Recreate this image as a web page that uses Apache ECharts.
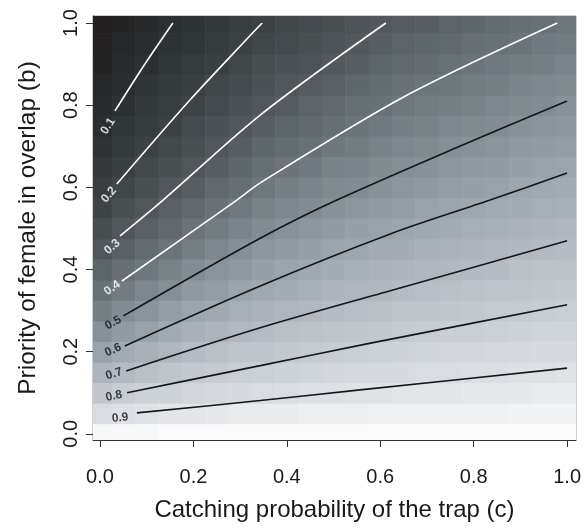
<!DOCTYPE html>
<html>
<head>
<meta charset="utf-8">
<title>trap contour</title>
<script src="https://cdn.jsdelivr.net/npm/echarts@6/dist/echarts.min.js"></script>
<style>
html,body{margin:0;padding:0;background:#fff;}
#main{width:584px;height:529px;}
</style>
</head>
<body>
<div id="main"></div>
<script>
// x = catching probability c, y = priority b
var cSteps = [0,0.05,0.1,0.15,0.2,0.25,0.3,0.35,0.4,0.45,0.5,0.55,0.6,0.65,0.7,0.75,0.8,0.85,0.9,0.95,1.0];
var bSteps = [0,0.05,0.1,0.15,0.2,0.25,0.3,0.35,0.4,0.45,0.5,0.55,0.6,0.65,0.7,0.75,0.8,0.85,0.9,0.95,1.0];

// shade of each cell, one list per c column, from b=0 up to b=1
var shadeCols = [
	[0.99,0.88,0.77,0.67,0.58,0.51,0.44,0.39,0.34,0.29,0.25,0.21,0.18,0.15,0.12,0.09,0.075,0.06,0.045,0.03,0.02],
	[0.99,0.90,0.80,0.70,0.62,0.55,0.49,0.43,0.38,0.33,0.29,0.26,0.22,0.19,0.16,0.14,0.11,0.09,0.075,0.06,0.045],
	[0.99,0.91,0.82,0.73,0.65,0.58,0.52,0.47,0.41,0.37,0.33,0.29,0.26,0.23,0.20,0.17,0.15,0.13,0.10,0.09,0.07],
	[1.0,0.92,0.83,0.76,0.68,0.62,0.56,0.50,0.45,0.40,0.36,0.33,0.29,0.26,0.23,0.20,0.18,0.16,0.14,0.12,0.10],
	[1.0,0.92,0.85,0.78,0.71,0.65,0.59,0.54,0.49,0.44,0.40,0.36,0.32,0.29,0.26,0.24,0.21,0.19,0.17,0.14,0.12],
	[1.0,0.93,0.86,0.79,0.73,0.67,0.61,0.56,0.52,0.47,0.43,0.39,0.36,0.32,0.29,0.27,0.24,0.22,0.19,0.17,0.15],
	[1.0,0.94,0.87,0.81,0.75,0.69,0.64,0.59,0.54,0.50,0.46,0.42,0.38,0.35,0.32,0.29,0.27,0.24,0.22,0.20,0.18],
	[1.0,0.94,0.88,0.82,0.76,0.71,0.66,0.61,0.57,0.53,0.49,0.45,0.41,0.38,0.35,0.32,0.29,0.27,0.25,0.22,0.20],
	[1.0,0.94,0.89,0.83,0.78,0.73,0.68,0.63,0.59,0.55,0.51,0.47,0.44,0.40,0.37,0.34,0.31,0.29,0.27,0.24,0.22],
	[1.0,0.95,0.90,0.84,0.79,0.74,0.69,0.65,0.61,0.57,0.53,0.49,0.46,0.42,0.39,0.36,0.34,0.31,0.28,0.26,0.24],
	[1.0,0.95,0.90,0.85,0.80,0.75,0.71,0.67,0.63,0.59,0.55,0.51,0.48,0.45,0.41,0.38,0.36,0.33,0.30,0.28,0.26],
	[1.0,0.95,0.91,0.86,0.81,0.77,0.72,0.68,0.64,0.60,0.57,0.53,0.49,0.46,0.43,0.40,0.38,0.35,0.32,0.30,0.28],
	[1.0,0.96,0.91,0.87,0.82,0.78,0.73,0.69,0.66,0.62,0.58,0.55,0.51,0.48,0.45,0.42,0.39,0.37,0.34,0.32,0.30],
	[1.0,0.96,0.92,0.87,0.83,0.79,0.75,0.71,0.67,0.63,0.60,0.56,0.53,0.50,0.47,0.44,0.41,0.39,0.36,0.34,0.31],
	[1.0,0.96,0.92,0.88,0.84,0.80,0.76,0.72,0.68,0.65,0.61,0.58,0.54,0.51,0.48,0.45,0.43,0.40,0.37,0.35,0.32],
	[1.0,0.96,0.92,0.88,0.85,0.81,0.77,0.73,0.69,0.66,0.62,0.59,0.56,0.53,0.50,0.47,0.44,0.41,0.39,0.36,0.34],
	[1.0,0.96,0.93,0.89,0.85,0.81,0.78,0.74,0.70,0.67,0.64,0.60,0.57,0.54,0.51,0.48,0.45,0.43,0.40,0.38,0.35],
	[1.0,0.96,0.93,0.89,0.86,0.82,0.79,0.75,0.71,0.68,0.65,0.62,0.58,0.55,0.52,0.49,0.47,0.44,0.42,0.39,0.37],
	[1.0,0.97,0.93,0.90,0.86,0.83,0.79,0.76,0.73,0.69,0.66,0.63,0.60,0.57,0.54,0.51,0.48,0.46,0.43,0.40,0.38],
	[1.0,0.97,0.94,0.90,0.87,0.84,0.80,0.77,0.74,0.70,0.67,0.64,0.61,0.58,0.55,0.52,0.49,0.47,0.44,0.42,0.39],
	[1.0,0.97,0.94,0.91,0.87,0.84,0.81,0.78,0.74,0.71,0.68,0.65,0.62,0.59,0.56,0.53,0.51,0.48,0.46,0.43,0.41]
];

// contour lines, points as [c, b]
var levelNames = ['0.1','0.2','0.3','0.4','0.5','0.6','0.7','0.8','0.9'];
var line01 = [[0.032,0.786],[0.092,0.893],[0.156,1.0]];
var line02 = [[0.036,0.608],[0.193,0.813],[0.347,1.0]];
var line03 = [[0.043,0.482],[0.135,0.569],[0.343,0.776],[0.612,1.0]];
var line04 = [[0.047,0.372],[0.293,0.569],[0.343,0.611],[0.65,0.82],[0.979,1.0]];
var line05 = [[0.05,0.287],[0.343,0.476],[0.507,0.569],[0.77,0.70],[1.0,0.81]];
var line06 = [[0.053,0.214],[0.343,0.36],[0.627,0.489],[0.835,0.569],[1.0,0.635]];
var line07 = [[0.056,0.153],[0.343,0.258],[0.627,0.35],[1.0,0.47]];
var line08 = [[0.058,0.10],[0.343,0.166],[0.571,0.219],[1.0,0.314]];
var line09 = [[0.079,0.051],[0.343,0.081],[0.557,0.107],[1.0,0.16]];

// where the level labels sit, [c, b]
var labelAt = [[0.017,0.749],[0.019,0.582],[0.026,0.455],[0.026,0.355],[0.028,0.270],[0.028,0.204],[0.030,0.146],[0.030,0.092],[0.043,0.039]];
var tickVals = [0,0.2,0.4,0.6,0.8,1.0];

// label tilt in degrees (style only)
var labelTilt = [57,49,40,35,29,24,18,12,6];
var CELL = 0.05;
var FONT = '"Liberation Sans", Arial, Helvetica, sans-serif';

window.onload = function(){
	buildEchart();
};

function buildEchart(){
	var myChart = echarts.init(document.getElementById('main'), null, {renderer:'canvas'});

	var heat = [];
	for(var i=0;i<cSteps.length;i++){
		for(var j=0;j<bSteps.length;j++){
			heat.push([cSteps[i], bSteps[j], shadeCols[i][j]]);
		}
	}

	var lines = [line01,line02,line03,line04,line05,line06,line07,line08,line09];
	var series = [];

	// grey cells
	series.push({
		type:'custom',
		silent:true,
		animation:false,
		encode:{x:0, y:1},
		data:heat,
		renderItem:function(params, api){
			var c = api.value(0), b = api.value(1);
			var p0 = api.coord([c - CELL/2, b + CELL/2]);
			var p1 = api.coord([c + CELL/2, b - CELL/2]);
			var rect = echarts.graphic.clipRectByRect({
				x:p0[0], y:p0[1], width:p1[0]-p0[0]+0.6, height:p1[1]-p0[1]+0.6
			},{
				x:params.coordSys.x, y:params.coordSys.y,
				width:params.coordSys.width, height:params.coordSys.height
			});
			return rect && {type:'rect', shape:rect, style:{fill:api.visual('color')}};
		}
	});

	// contour lines, white for the dark part
	for(var k=0;k<lines.length;k++){
		series.push({
			type:'line',
			data:lines[k],
			showSymbol:false,
			smooth:0.3,
			silent:true,
			animation:false,
			z:3,
			lineStyle:{width:1.6, color:(k<4 ? '#ffffff' : '#161616')}
		});
	}

	// level labels
	var labData = [];
	for(var m=0;m<labelAt.length;m++){
		labData.push({
			value:[labelAt[m][0], labelAt[m][1]],
			label:{
				rotate:labelTilt[m],
				color:(m<4 ? '#ffffff' : '#161616'),
				formatter:levelNames[m]
			}
		});
	}
	series.push({
		type:'scatter',
		data:labData,
		symbolSize:0,
		silent:true,
		animation:false,
		z:4,
		label:{show:true, position:'inside', fontSize:12, fontWeight:'bold', fontFamily:FONT}
	});

	var option = {
		backgroundColor:'#ffffff',
		animation:false,
		grid:{left:93, right:8, top:16, bottom:89, show:true, borderColor:'#9a9a9a', borderWidth:1},
		visualMap:{
			show:false,
			type:'continuous',
			seriesIndex:0,
			dimension:2,
			min:0,
			max:1,
			inRange:{color:['#1f1b1c','#2b2f30','#3b4244','#51595c','#6b7479','#858f95','#9ea7ae','#b3bac1','#c8cdd3','#dde0e4','#fbfbfb']}
		},
		xAxis:{
			type:'value',
			min:-0.015,
			max:1.019,
			splitLine:{show:false},
			axisLine:{show:true, onZero:false, lineStyle:{color:'#333', width:1}},
			axisTick:{show:true, length:7, customValues:tickVals, lineStyle:{color:'#333'}},
			axisLabel:{customValues:tickVals, fontSize:20, color:'#1a1a1a', margin:27, fontFamily:FONT,
				formatter:function(v){ return v.toFixed(1); }},
			name:'Catching probability of the trap (c)',
			nameLocation:'middle',
			nameGap:58,
			nameTextStyle:{fontSize:24, color:'#1a1a1a', fontFamily:FONT}
		},
		yAxis:{
			type:'value',
			min:-0.015,
			max:1.017,
			splitLine:{show:false},
			axisLine:{show:true, onZero:false, lineStyle:{color:'#333', width:1}},
			axisTick:{show:true, length:7, customValues:tickVals, lineStyle:{color:'#333'}},
			axisLabel:{customValues:tickVals, fontSize:20, color:'#1a1a1a', margin:12, rotate:90, fontFamily:FONT,
				formatter:function(v){ return v.toFixed(1); }},
			name:'Priority of female in overlap (b)',
			nameLocation:'middle',
			nameGap:52,
			nameTextStyle:{fontSize:24.5, color:'#1a1a1a', fontFamily:FONT}
		},
		series:series
	};

	myChart.setOption(option);
}
</script>
</body>
</html>
